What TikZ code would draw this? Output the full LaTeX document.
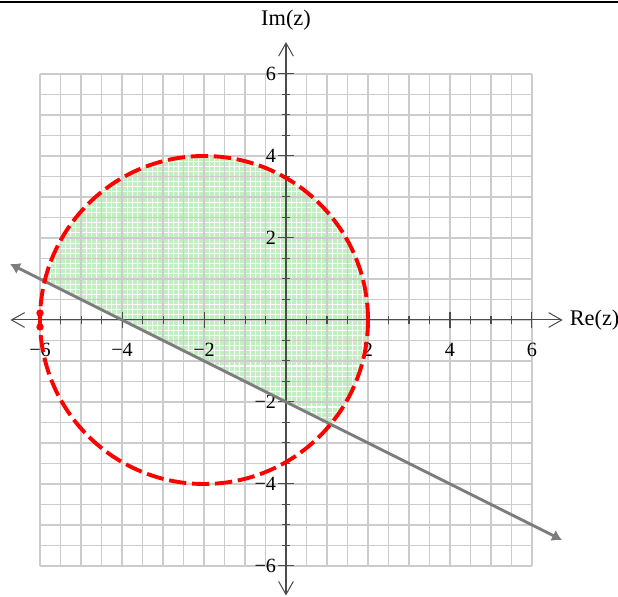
\documentclass[tikz,border=0pt]{standalone}
\usepackage{fontspec}
\setmainfont{Liberation Serif}
\usepackage{xcolor}
\usepackage{tikz}
\usetikzlibrary{arrows.meta}
\definecolor{verdeclaro}{RGB}{194,238,194}
\definecolor{gris}{RGB}{125,125,125}
\tikzset{
  rejilla/.style={draw=gray!40, line width=0.9pt},
  subrejilla/.style={draw=white!90!verdeclaro, line width=0.85pt},
  eje/.style={draw=black!70, line width=0.7pt,
              {Straight Barb[length=3.2mm,width=3.6mm]}-{Straight Barb[length=3.2mm,width=3.6mm]}},
  marca/.style={draw=black!70, line width=0.7pt},
  etiq/.style={font=\fontsize{14}{14}\selectfont, inner sep=1pt},
  titulo/.style={font=\fontsize{15.5}{16}\selectfont, inner sep=1pt},
  circulo/.style={draw=red, line width=2.7pt, dash pattern=on 12pt off 4pt},
  recta/.style={draw=gris, line width=2pt,
                {Latex[length=2.4mm,width=3mm]}-{Latex[length=2.4mm,width=3mm]}},
  punto/.style={fill=red}
}

\begin{document}
\begin{tikzpicture}
  \useasboundingbox (-6.976,-6.756) rectangle (8.098,7.805);
  \coordinate (bi) at (-6.976,7.756); \coordinate (bd) at (8.098,7.756);
  \draw[line width=1.5pt] (bi) -- (bd);

  % region sombreada
  \begin{scope}
    \clip (-2,0) circle (4);
    \clip (-7,1.5) -- (3,-3.5) -- (3,5) -- (-7,5) -- cycle;
    \fill[verdeclaro] (-6,-4) rectangle (2,4);
    \draw[subrejilla, step=0.125] (-6,-4) grid (2,4);
  \end{scope}
  \draw[rejilla, step=0.5] (-6,-6) grid (6,6);

  % ejes
  \coordinate (xizq) at (-6.72,0); \coordinate (xder) at (6.75,0);
  \coordinate (yabj) at (0,-6.72); \coordinate (yarr) at (0,6.78);
  \draw[eje] (xizq) -- (xder);
  \draw[eje] (yabj) -- (yarr);
  \node[titulo, anchor=west] (re) at (6.88,0) {Re(z)};
  \node[titulo] (im) at (0,7.32) {Im(z)};

  \foreach \t in {-5.5,-5,...,-0.5,0.5,1,...,5.5} {
    \draw[marca] (\t,-0.1) -- (\t,0.1);
    \draw[marca] (-0.1,\t) -- (0.1,\t);
  }
  \foreach \t/\s/\n in {-6/−6/a,-4/−4/b,-2/−2/c,2/2/d,4/4/e,6/6/f} {
    \draw[marca] (\t,-0.19) -- (\t,0.19);
    \draw[marca] (-0.19,\t) -- (0.19,\t);
    \node[etiq] (ex\n) at (\t,-0.72) {\s};
    \node[etiq, anchor=east] (ey\n) at (-0.2,\t) {\s};
  }

  % recta y circunferencia
  \coordinate (ri) at (-6.73,1.365); \coordinate (rf) at (6.73,-5.365);
  \draw[recta] (ri) -- (rf);
  \draw[circulo] (-2,0) circle (4);
  \fill[punto] (-6,0.17) circle (0.09);
  \fill[punto] (-6,-0.17) circle (0.09);
\end{tikzpicture}
\end{document}
